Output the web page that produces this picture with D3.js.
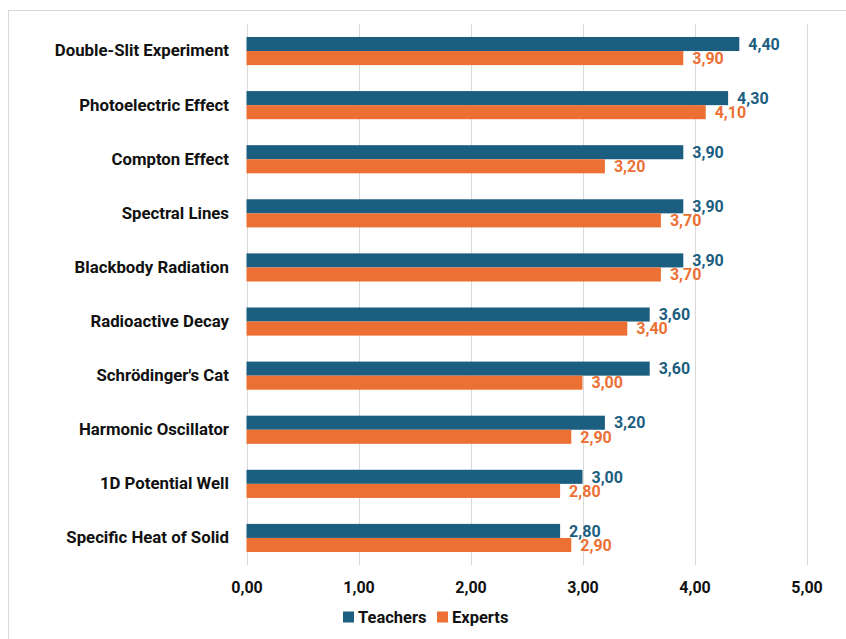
<!DOCTYPE html>
<html>
<head>
<meta charset="utf-8">
<script src="https://cdn.jsdelivr.net/npm/d3@7"></script>
<style>
  html, body { margin: 0; padding: 0; background: #fff; }
  svg { display: block; font-family: Roboto, "Liberation Sans", sans-serif; }
</style>
</head>
<body>
<svg id="chart" width="846" height="639"></svg>
<script>
// Topics, top to bottom
const categories = [
  "Double-Slit Experiment",
  "Photoelectric Effect",
  "Compton Effect",
  "Spectral Lines",
  "Blackbody Radiation",
  "Radioactive Decay",
  "Schrödinger's Cat",
  "Harmonic Oscillator",
  "1D Potential Well",
  "Specific Heat of Solid"
];
const teachers = [4.40, 4.30, 3.90, 3.90, 3.90, 3.60, 3.60, 3.20, 3.00, 2.80];
const experts  = [3.90, 4.10, 3.20, 3.70, 3.70, 3.40, 3.00, 2.90, 2.80, 2.90];
const seriesNames = ["Teachers", "Experts"];
const seriesColors = ["#1b5e80", "#ec7034"];
const xTicks = [0, 1, 2, 3, 4, 5];

const fmt = v => v.toFixed(2).replace(".", ",");

const svg = d3.select("#chart");

// outer frame
svg.append("rect")
  .attr("x", 8.5).attr("y", 10.5)
  .attr("width", 860).attr("height", 660)
  .attr("fill", "none").attr("stroke", "#d9d9d9").attr("stroke-width", 1);

const x = d3.scaleLinear().domain([0, 5]).range([246.5, 806.5]);
const y = d3.scaleBand().domain(categories).range([24, 565]).paddingInner(0.48).paddingOuter(0.24);
const sub = d3.scaleBand().domain(seriesNames).range([0, y.bandwidth()]);

// vertical gridlines
svg.append("g")
  .selectAll("line")
  .data(xTicks)
  .join("line")
  .attr("x1", d => Math.round(x(d)) + 0.5)
  .attr("x2", d => Math.round(x(d)) + 0.5)
  .attr("y1", 24).attr("y2", 565)
  .attr("stroke", "#d9d9d9").attr("stroke-width", 1);

// x axis labels
const xAxis = d3.axisBottom(x).tickValues(xTicks).tickFormat(fmt).tickSize(0).tickPadding(0);
const gx = svg.append("g").attr("transform", "translate(0,582)").call(xAxis);
gx.select(".domain").remove();
gx.selectAll("text")
  .attr("font-family", "Roboto, sans-serif")
  .attr("font-size", 16).attr("font-weight", 700)
  .attr("fill", "#111");

// category labels
const yAxis = d3.axisLeft(y).tickSize(0).tickPadding(0);
const gy = svg.append("g").attr("transform", "translate(229,0)").call(yAxis);
gy.select(".domain").remove();
gy.selectAll("text")
  .attr("font-family", "Roboto, sans-serif")
  .attr("font-size", 16.8).attr("font-weight", 700)
  .attr("fill", "#111");

const rows = categories.map((c, i) => ({ c, vals: [teachers[i], experts[i]] }));

const groups = svg.append("g").selectAll("g")
  .data(rows)
  .join("g")
  .attr("transform", d => `translate(0,${y(d.c)})`);

groups.selectAll("rect")
  .data(d => d.vals.map((v, k) => ({ v, k })))
  .join("rect")
  .attr("x", x(0))
  .attr("y", d => sub(seriesNames[d.k]))
  .attr("width", d => x(d.v) - x(0))
  .attr("height", sub.bandwidth())
  .attr("fill", d => seriesColors[d.k]);

groups.selectAll("text.val")
  .data(d => d.vals.map((v, k) => ({ v, k })))
  .join("text")
  .attr("class", "val")
  .attr("x", d => x(d.v) + 9)
  .attr("y", d => sub(seriesNames[d.k]) + sub.bandwidth() / 2)
  .attr("dy", "0.36em")
  .attr("font-size", 16).attr("font-weight", 700)
  .attr("fill", d => seriesColors[d.k])
  .text(d => fmt(d.v));

// legend
const legend = svg.append("g").attr("transform", "translate(343,617)");
const legendX = [0, 94];
seriesNames.forEach((name, k) => {
  const g = legend.append("g").attr("transform", `translate(${legendX[k]},0)`);
  g.append("rect").attr("x", 0).attr("y", -5.5).attr("width", 11).attr("height", 11).attr("fill", seriesColors[k]);
  g.append("text").attr("x", 15).attr("y", 0).attr("dy", "0.36em")
    .attr("font-size", 16.5).attr("font-weight", 700).attr("fill", "#111")
    .text(name);
});
</script>
</body>
</html>
